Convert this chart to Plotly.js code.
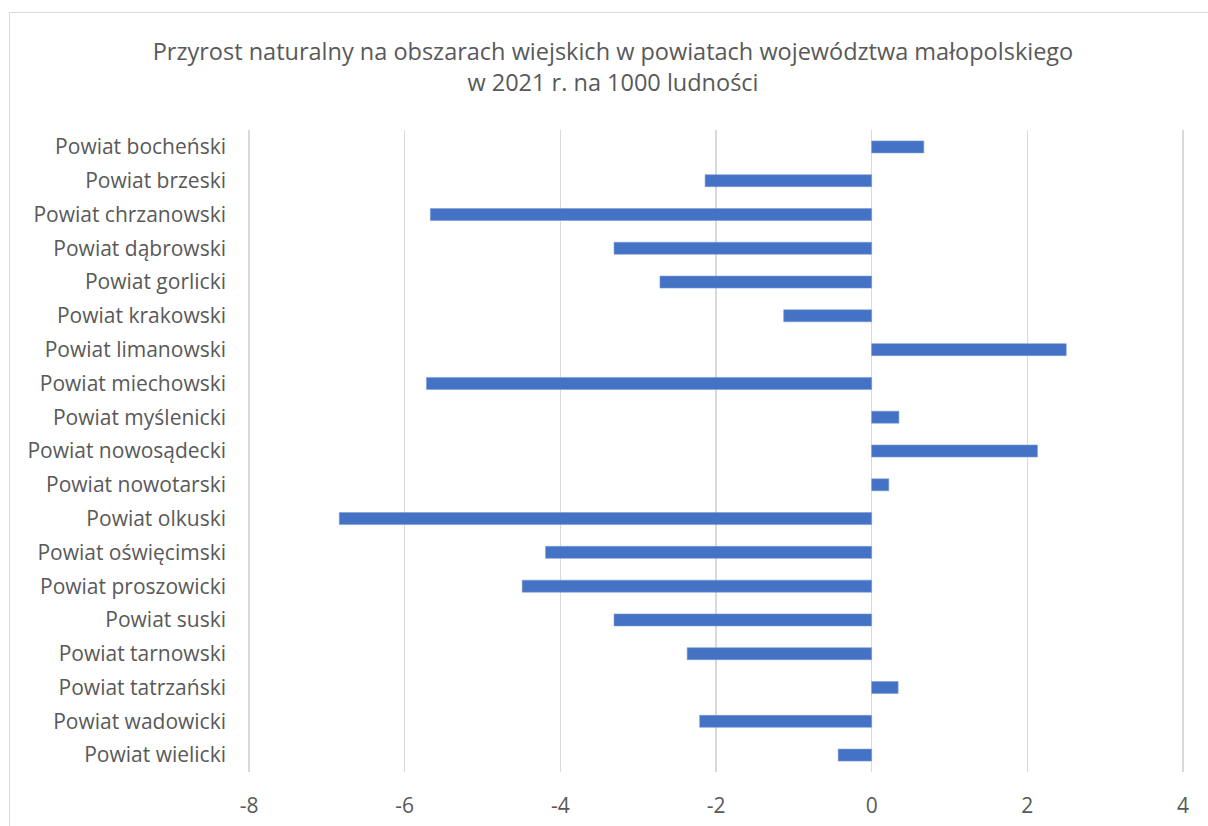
<!DOCTYPE html>
<html>
<head>
<meta charset="utf-8">
<script src="https://cdn.plot.ly/plotly-3.0.1.min.js"></script>
<style>
  html, body { margin: 0; padding: 0; background: #ffffff; }
  #frame { position: absolute; left: 9px; top: 12px; width: 1220px; height: 840px; border: 1px solid #d9d9d9; box-sizing: border-box; }
  #chart { position: absolute; left: 0; top: 0; width: 1208px; height: 826px; }
</style>
</head>
<body>
<div id="frame"></div>
<div id="chart"></div>
<script>
const categories = [
  "Powiat bocheński", "Powiat brzeski", "Powiat chrzanowski", "Powiat dąbrowski",
  "Powiat gorlicki", "Powiat krakowski", "Powiat limanowski", "Powiat miechowski",
  "Powiat myślenicki", "Powiat nowosądecki", "Powiat nowotarski", "Powiat olkuski",
  "Powiat oświęcimski", "Powiat proszowicki", "Powiat suski", "Powiat tarnowski",
  "Powiat tatrzański", "Powiat wadowicki", "Powiat wielicki"
];
const values = [
  0.67, -2.14, -5.67, -3.31,
  -2.72, -1.13, 2.50, -5.72,
  0.35, 2.13, 0.22, -6.84,
  -4.19, -4.49, -3.31, -2.37,
  0.34, -2.21, -0.43
];
const xTicks = [-8, -6, -4, -2, 0, 2, 4];
const titleText = "Przyrost naturalny na obszarach wiejskich w powiatach województwa małopolskiego<br>w 2021 r. na 1000 ludności";

const font = "'Open Sans', sans-serif";
const textColor = "#595959";
const pad = 0.0257;

const trace = {
  type: "bar",
  orientation: "h",
  y: categories,
  x: values,
  marker: { color: "#4472C4", line: { width: 0.6, color: "#7a9bd6" } },
  hoverinfo: "x+y"
};

const layout = {
  width: 1208,
  height: 826,
  paper_bgcolor: "rgba(0,0,0,0)",
  plot_bgcolor: "rgba(0,0,0,0)",
  margin: { l: 247, r: 23, t: 130, b: 54 },
  showlegend: false,
  bargap: 0.645,
  title: {
    text: titleText,
    font: { family: font, size: 23.5, color: textColor },
    x: 613 / 1208, xref: "container", xanchor: "center",
    y: 1 - 60 / 826, yref: "container", yanchor: "middle"
  },
  xaxis: {
    range: [-8 - pad, 4 + pad],
    tickvals: xTicks,
    ticktext: xTicks.map(String),
    showgrid: true,
    gridcolor: "#d9d9d9",
    gridwidth: 1.6,
    zeroline: false,
    showline: false,
    ticks: "",
    ticklabelstandoff: 19,
    tickfont: { family: font, size: 21, color: textColor },
    fixedrange: true
  },
  yaxis: {
    type: "category",
    autorange: "reversed",
    showgrid: false,
    zeroline: false,
    showline: false,
    ticks: "",
    ticklabelstandoff: 20,
    tickfont: { family: font, size: 21, color: textColor },
    fixedrange: true
  }
};

Plotly.newPlot("chart", [trace], layout, { displayModeBar: false, staticPlot: true });
</script>
</body>
</html>
